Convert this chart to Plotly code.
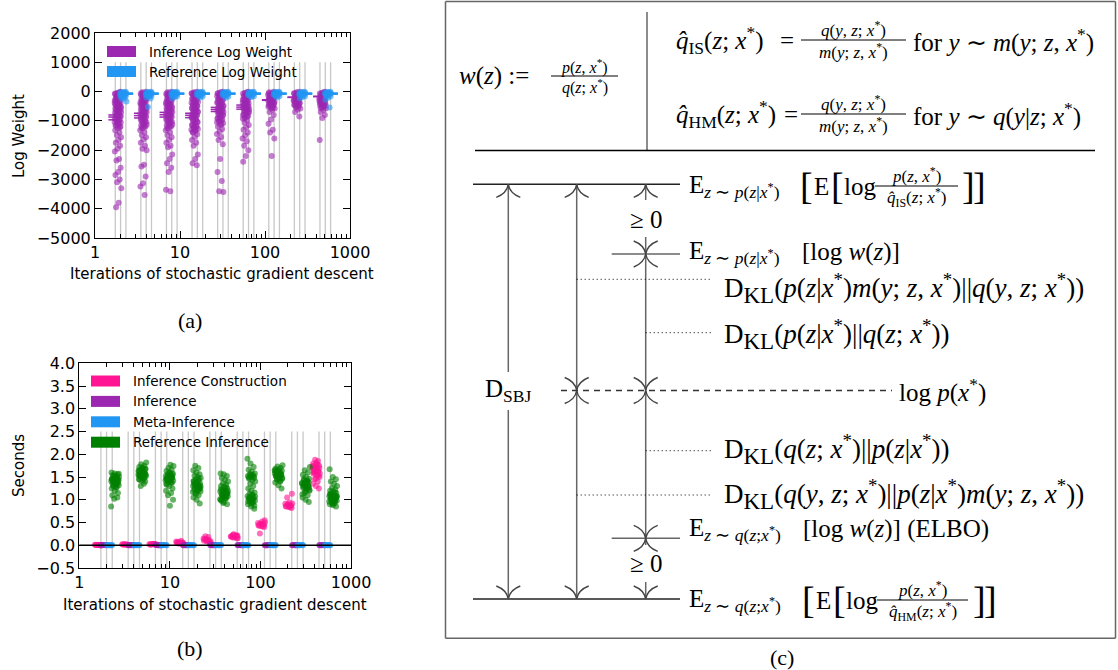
import re
import plotly.graph_objects as go

W, H = 1118, 670

# ---------------- data ----------------
iterations = [2, 4, 8, 16, 32, 64, 128, 256, 512]
SLOT = 1.155  # log spacing of the four categories inside a group

inference_log_weight = [
    [-10, -40, -70, -100, -130, -160, -190, -220, -250, -280, -310, -340, -370, -400, -430, -460, -490, -520, -550, -580,
     -610, -640, -680, -720, -760, -800, -840, -880, -920, -960, -1000, -1040, -1090, -1140, -1190, -1250, -1320, -1400,
     -1480, -1560, -1650, -1750, -1850, -1950, -2050, -2300, -2350, -2600, -2750, -2850, -3000, -3100, -3300, -3800, -3950,
     -25, -55, -85, -115, -150, -190, -230, -270, -310, -350, -390, -430, -470, -510, -550, -590, -630, -670, -710,
     -750, -790, -830, -870, -910, -960, -1010, -1060, -1110, -1170, -1230],
    [-10, -40, -70, -100, -140, -180, -220, -260, -300, -340, -380, -420, -460, -500, -540, -580, -620, -660, -700, -740,
     -780, -820, -860, -900, -950, -1000, -1050, -1100, -1150, -1200, -1260, -1320, -1400, -1480, -1560, -1640, -1750,
     -1850, -1950, -2000, -2500, -2560, -2900, -3130, -3240, -3530,
     -25, -55, -85, -120, -160, -200, -240, -280, -320, -360, -400, -440, -480, -520, -560, -600, -640, -680, -720,
     -760, -800, -840, -880, -930, -980, -1030, -1080, -1130, -1180, -1240],
    [-10, -40, -70, -100, -140, -180, -220, -260, -300, -340, -380, -420, -460, -500, -540, -580, -620, -660, -700, -740,
     -780, -820, -860, -900, -950, -1000, -1050, -1100, -1150, -1200, -1260, -1320, -1400, -1480, -1560, -1650, -1750,
     -1850, -1900, -2150, -2300, -2450, -2600, -2750, -3350, -3400,
     -25, -55, -85, -120, -160, -200, -240, -280, -320, -360, -400, -440, -480, -520, -560, -600, -640, -680, -720,
     -760, -800, -840, -880, -930, -980, -1030, -1080, -1130, -1180, -1240],
    [-10, -40, -70, -100, -140, -180, -220, -260, -300, -340, -380, -420, -460, -500, -540, -580, -620, -660, -700, -740,
     -780, -820, -860, -900, -950, -1000, -1050, -1100, -1150, -1200, -1250, -1300, -1350, -1400, -1460, -1550, -1650,
     -1750, -1850, -2150, -2300, -2450, -2520,
     -25, -55, -85, -120, -160, -200, -240, -280, -320, -360, -400, -440, -480, -520, -560, -600, -640, -680, -720,
     -760, -800, -840, -880, -930, -980, -1030, -1080, -1130, -1180, -1230, -1280, -1330, -1380],
    [-10, -40, -70, -100, -140, -180, -220, -260, -300, -340, -380, -420, -460, -500, -540, -580, -620, -660, -700, -740,
     -780, -820, -870, -920, -970, -1020, -1080, -1140, -1200, -1280, -1360, -1450, -1550, -1650, -1800, -2300, -2750,
     -3050, -3400, -3430,
     -25, -55, -85, -120, -160, -200, -240, -280, -320, -360, -400, -440, -480, -520, -560, -600, -640, -680, -720,
     -760, -800, -850, -900, -950, -1000, -1050, -1110],
    [-10, -40, -70, -100, -140, -180, -220, -260, -300, -340, -380, -420, -460, -500, -540, -580, -620, -660, -700, -740,
     -780, -830, -880, -930, -990, -1060, -1140, -1220, -1300, -1400, -1500, -1600, -1700, -1850, -2000, -2200, -2400,
     -25, -55, -85, -120, -160, -200, -240, -280, -320, -360, -400, -440, -480, -520, -560, -600, -640, -680, -720,
     -760, -800, -850, -900],
    [-10, -40, -70, -100, -130, -160, -190, -220, -250, -280, -310, -340, -370, -400, -430, -460, -500, -540, -580, -620,
     -700, -800, -950, -1100, -1300, -1400, -1600, -2200,
     -25, -55, -85, -115, -145, -175, -205, -235, -265, -295, -325, -355, -385, -415, -450, -480, -520, -560],
    [-10, -40, -70, -100, -130, -160, -190, -220, -250, -280, -310, -340, -370, -400, -430, -460, -500, -540, -580, -620,
     -700, -850,
     -25, -55, -85, -115, -145, -175, -205, -235, -265, -295, -325, -355, -385, -415, -450, -480, -520],
    [-10, -40, -70, -100, -130, -160, -190, -220, -250, -280, -310, -340, -370, -400, -430, -460, -500, -540, -580, -630,
     -700, -800, -900, -1650,
     -25, -55, -85, -115, -145, -175, -205, -235, -265, -295, -325, -355, -385, -415, -450, -480, -520, -560],
]
reference_log_weight = [
    [-5, -15, -25, -35, -45, -55, -65, -75, -85, -95, -105, -120, -135, -150, -170, -190, -220, -260, -340],
    [-5, -15, -25, -35, -45, -55, -65, -75, -85, -95, -105, -120, -135, -150, -170, -200, -240, -530],
    [-5, -15, -25, -35, -45, -55, -65, -75, -85, -95, -110, -125, -140, -160, -190, -230],
    [-5, -15, -25, -35, -45, -55, -65, -75, -85, -95, -110, -125, -145, -170, -200],
    [-5, -15, -25, -35, -45, -55, -65, -75, -85, -95, -110, -125, -145, -170, -210],
    [-5, -15, -25, -35, -45, -55, -65, -75, -85, -95, -110, -125, -140, -160, -190],
    [-5, -15, -25, -35, -45, -55, -65, -75, -85, -95, -110, -125, -140, -160, -200],
    [-5, -15, -25, -35, -45, -55, -65, -75, -85, -95, -110, -125, -140, -160, -190, -230],
    [-5, -15, -25, -35, -45, -55, -65, -75, -85, -95, -110, -125, -145, -170, -210, -280, -540],
]
inference_lw_marks = [[-800, -870, -965], [-740, -820, -900], [-710, -790, -870], [-740, -810, -890],
                      [-540, -610, -680], [-460, -530, -600], [-280, -300], [-190, -200], [-160, -175]]
reference_lw_marks = [[-50, -70, -90], [-50, -70, -90], [-50, -70, -90], [-50, -70, -90], [-50, -70, -90],
                      [-50, -70, -90], [-50, -70, -90], [-50, -70, -90], [-50, -70, -90]]

inference_construction_s = [
    [0.0, 0.005, 0.01, 0.0, 0.008, 0.012, 0.004, 0.006, 0.002, 0.01],
    [0.01, 0.015, 0.02, 0.012, 0.018, 0.008, 0.02, 0.014, 0.01, 0.016],
    [0.015, 0.02, 0.025, 0.03, 0.018, 0.022, 0.028, 0.012, 0.02, 0.024],
    [0.03, 0.04, 0.05, 0.06, 0.07, 0.045, 0.055, 0.065, 0.035, 0.05, 0.08, 0.1, 0.04, 0.06],
    [0.06, 0.08, 0.1, 0.12, 0.14, 0.09, 0.11, 0.13, 0.07, 0.1, 0.15, 0.18, 0.2, 0.05],
    [0.15, 0.17, 0.19, 0.21, 0.23, 0.16, 0.18, 0.2, 0.22, 0.24, 0.19, 0.2, 0.17, 0.21],
    [0.40, 0.42, 0.44, 0.46, 0.48, 0.5, 0.52, 0.43, 0.45, 0.47, 0.49, 0.41, 0.26, 0.55],
    [0.82, 0.84, 0.86, 0.88, 0.9, 0.92, 0.94, 0.85, 0.87, 0.89, 0.91, 0.83, 1.05, 1.13],
    [1.25, 1.3, 1.35, 1.4, 1.45, 1.5, 1.55, 1.6, 1.62, 1.65, 1.68, 1.7, 1.72, 1.75, 1.78, 1.8, 1.85, 1.88, 1.58,
     1.63, 1.67, 1.52, 1.47, 1.73, 1.77, 1.6, 1.7, 1.82, 1.57, 1.64, 1.69, 1.74, 1.54, 1.62],
]
inference_s = [
    [0.001, 0.003, 0.002, 0.004, 0.002, 0.001, 0.003, 0.002],
    [0.002, 0.003, 0.001, 0.004, 0.002, 0.003, 0.001, 0.002],
    [0.002, 0.001, 0.003, 0.002, 0.004, 0.002, 0.001, 0.003],
    [0.003, 0.002, 0.001, 0.002, 0.004, 0.003, 0.002, 0.001],
    [0.002, 0.004, 0.003, 0.001, 0.002, 0.003, 0.002, 0.001],
    [0.001, 0.002, 0.003, 0.002, 0.004, 0.001, 0.003, 0.002],
    [0.003, 0.001, 0.002, 0.004, 0.002, 0.003, 0.001, 0.002],
    [0.002, 0.003, 0.002, 0.001, 0.003, 0.004, 0.002, 0.001],
    [0.001, 0.002, 0.004, 0.003, 0.002, 0.001, 0.003, 0.002],
]
meta_inference_s = [
    [0.002, 0.001, 0.003, 0.002, 0.001, 0.004, 0.002, 0.003],
    [0.003, 0.002, 0.001, 0.002, 0.003, 0.001, 0.004, 0.002],
    [0.001, 0.003, 0.002, 0.004, 0.001, 0.002, 0.003, 0.002],
    [0.002, 0.004, 0.001, 0.003, 0.002, 0.001, 0.002, 0.003],
    [0.003, 0.001, 0.002, 0.002, 0.004, 0.003, 0.001, 0.002],
    [0.002, 0.003, 0.004, 0.001, 0.002, 0.002, 0.003, 0.001],
    [0.001, 0.002, 0.003, 0.002, 0.001, 0.004, 0.002, 0.003],
    [0.004, 0.002, 0.001, 0.003, 0.002, 0.001, 0.003, 0.002],
    [0.002, 0.001, 0.002, 0.003, 0.004, 0.002, 0.001, 0.003],
]
reference_inference_s = [
    [1.15, 1.2, 1.25, 1.28, 1.3, 1.32, 1.34, 1.36, 1.38, 1.4, 1.41, 1.42, 1.43, 1.44, 1.45, 1.46, 1.47, 1.48, 1.5,
     1.52, 1.54, 1.56, 1.58, 1.6, 1.35, 1.39, 1.43, 1.47, 1.1, 1.05, 1.02, 0.85,
     1.27, 1.31, 1.37, 1.41, 1.45, 1.49, 1.53, 1.57, 1.33, 1.44],
    [1.4, 1.42, 1.45, 1.47, 1.5, 1.52, 1.54, 1.56, 1.58, 1.6, 1.62, 1.64, 1.66, 1.68, 1.7, 1.72, 1.75, 1.78, 1.82,
     1.48, 1.53, 1.57, 1.61, 1.65, 1.35, 1.3, 1.55, 1.6,
     1.44, 1.49, 1.51, 1.55, 1.59, 1.63, 1.67, 1.71, 1.52, 1.58],
    [1.25, 1.3, 1.35, 1.38, 1.4, 1.42, 1.44, 1.46, 1.48, 1.5, 1.52, 1.54, 1.56, 1.58, 1.6, 1.63, 1.66, 1.7, 1.74,
     1.77, 1.45, 1.49, 1.53, 1.2, 1.15, 1.1, 1.0, 0.87,
     1.33, 1.37, 1.41, 1.43, 1.47, 1.51, 1.55, 1.59, 1.46, 1.5],
    [0.92, 1.0, 1.05, 1.1, 1.15, 1.18, 1.2, 1.22, 1.25, 1.28, 1.3, 1.32, 1.34, 1.36, 1.38, 1.4, 1.42, 1.45, 1.48,
     1.5, 1.53, 1.56, 1.6, 1.65, 1.7, 1.75, 1.24, 1.3, 1.35, 1.27,
     1.12, 1.17, 1.21, 1.26, 1.31, 1.37, 1.41, 1.46, 1.33, 1.29],
    [0.9, 0.95, 1.0, 1.02, 1.05, 1.08, 1.1, 1.12, 1.14, 1.16, 1.18, 1.2, 1.22, 1.25, 1.28, 1.3, 1.33, 1.36, 1.4,
     1.44, 1.48, 1.52, 1.56, 1.58, 1.04, 1.1, 1.15, 1.2, 0.98, 1.07,
     0.93, 1.01, 1.06, 1.11, 1.13, 1.17, 1.23, 1.27, 1.09, 1.19],
    [0.8, 0.85, 0.9, 0.93, 0.96, 0.98, 1.0, 1.02, 1.04, 1.06, 1.08, 1.1, 1.13, 1.16, 1.2, 1.25, 1.3, 1.35, 1.4,
     1.43, 1.46, 1.48, 1.5, 1.52, 1.54, 1.56, 1.58, 1.62, 1.66, 1.72, 1.8, 1.9, 0.95, 1.05,
     0.87, 0.92, 0.97, 1.01, 1.03, 1.07, 1.11, 1.49, 1.51, 1.55],
    [1.25, 1.32, 1.38, 1.42, 1.45, 1.48, 1.5, 1.52, 1.54, 1.56, 1.58, 1.6, 1.62, 1.64, 1.66, 1.68, 1.7, 1.73, 1.76,
     1.47, 1.51, 1.55, 1.59, 1.63, 1.4, 1.44,
     1.46, 1.49, 1.53, 1.57, 1.61, 1.65, 1.53, 1.57],
    [0.95, 1.0, 1.05, 1.1, 1.15, 1.2, 1.23, 1.26, 1.3, 1.33, 1.36, 1.4, 1.43, 1.46, 1.5, 1.55, 1.6, 1.65, 1.72,
     1.28, 1.32, 1.38, 1.18, 1.12, 1.42, 1.35,
     1.22, 1.25, 1.29, 1.31, 1.34, 1.37, 1.41, 1.45, 1.27, 1.39],
    [0.85, 0.88, 0.9, 0.93, 0.95, 0.98, 1.0, 1.02, 1.04, 1.06, 1.08, 1.1, 1.12, 1.15, 1.18, 1.2, 1.23, 1.26, 1.3,
     1.35, 1.4, 1.45, 1.5, 1.67, 0.97, 1.03, 1.07, 0.92, 1.13, 1.0,
     0.91, 0.96, 0.99, 1.01, 1.05, 1.09, 1.11, 1.16, 1.04, 1.08],
]

a_legend = ["Inference Log Weight", "Reference Log Weight"]
b_legend = ["Inference Construction", "Inference", "Meta-Inference", "Reference Inference"]
x_tickvals = [1, 10, 100, 1000]
x_minor = [m * d for d in (1, 10, 100) for m in range(2, 10)]

PURPLE = "#9C27B0"
BLUE = "#2196F3"
PINK = "#FF1493"
GREEN = "#008000"
GRAY = "#c8c8c8"
SANS = "DejaVu Sans"
SERIF = "Liberation Serif"


# ---------------- helpers ----------------
def slot_x(n, k):
    return n * SLOT ** (k - 1.5)


def jitter(i):
    return ((i * 0.6180339887) % 1.0) - 0.5


def strip(groups, k, spread):
    xs, ys = [], []
    for n, vals in zip(iterations, groups):
        c = slot_x(n, k)
        for i, v in enumerate(vals):
            xs.append(c * 10 ** (jitter(i + 3) * spread))
            ys.append(v)
    return xs, ys


def boundaries(ybot, ytop):
    xs, ys = [], []
    for n in iterations:
        for b in (n / SLOT, n, n * SLOT):
            xs += [b, b, None]
            ys += [ybot, ytop, None]
    return xs, ys


fig = go.Figure()

# ---------------- panel (a) ----------------
gx, gy = boundaries(-5000, 1000)
fig.add_trace(go.Scatter(x=gx, y=gy, mode="lines", line=dict(color=GRAY, width=1.3),
                         xaxis="x", yaxis="y", showlegend=False, hoverinfo="skip"))
for groups, k, col in ((inference_log_weight, 1, PURPLE), (reference_log_weight, 2, BLUE)):
    sx, sy = strip(groups, k, 0.08)
    fig.add_trace(go.Scatter(x=sx, y=sy, mode="markers", xaxis="x", yaxis="y",
                             marker=dict(color=col, size=6, opacity=0.6, line=dict(width=0)),
                             showlegend=False))
for groups, ratio, col in ((inference_lw_marks, 0.82, PURPLE), (reference_lw_marks, 1.23, BLUE)):
    mx, my = [], []
    for n, vals in zip(iterations, groups):
        for v in vals:
            mx.append(n * ratio)
            my.append(v)
    fig.add_trace(go.Scatter(x=mx, y=my, mode="markers", xaxis="x", yaxis="y",
                             marker=dict(symbol="line-ew", size=7, line=dict(color=col, width=1.5)),
                             showlegend=False))

# ---------------- panel (b) ----------------
gx, gy = boundaries(-0.5, 2.5)
fig.add_trace(go.Scatter(x=gx, y=gy, mode="lines", line=dict(color=GRAY, width=1.3),
                         xaxis="x2", yaxis="y2", showlegend=False, hoverinfo="skip"))
for groups, k, col, spread in ((inference_construction_s, 0, PINK, 0.085), (inference_s, 1, PURPLE, 0.07),
                               (meta_inference_s, 2, BLUE, 0.07), (reference_inference_s, 3, GREEN, 0.09)):
    sx, sy = strip(groups, k, spread)
    fig.add_trace(go.Scatter(x=sx, y=sy, mode="markers", xaxis="x2", yaxis="y2",
                             marker=dict(color=col, size=6, opacity=0.6, line=dict(width=0)),
                             showlegend=False))

# ---------------- axes ----------------
axis_common = dict(showline=True, linecolor="black", linewidth=1, mirror="allticks", ticks="inside",
                   tickcolor="black", ticklen=7, tickwidth=1, showgrid=False, zeroline=False,
                   automargin=False, tickfont=dict(family=SANS, size=16, color="black"))
xlog = dict(type="log", range=[0, 3], tickvals=x_tickvals, ticktext=[str(v) for v in x_tickvals],
            minor=dict(ticks="inside", ticklen=4, tickcolor="black", tickvals=x_minor, showgrid=False))

shapes = []
annotations = []

fig.update_layout(
    width=W, height=H, autosize=False,
    margin=dict(l=0, r=0, t=0, b=0, pad=0, autoexpand=False),
    paper_bgcolor="white", plot_bgcolor="rgba(0,0,0,0)", showlegend=False,
    xaxis=dict(domain=[95 / W, 350 / W], anchor="y", **xlog, **axis_common),
    yaxis=dict(domain=[1 - 238 / H, 1 - 33 / H], anchor="x", range=[-5000, 2000], dtick=1000, **axis_common),
    xaxis2=dict(domain=[79.3 / W, 351 / W], anchor="y2", **xlog, **axis_common),
    yaxis2=dict(domain=[1 - 568 / H, 1 - 363.3 / H], anchor="x2", range=[-0.5, 4.0], dtick=0.5,
                tickformat=".1f", **axis_common),
    xaxis3=dict(domain=[0, 1], range=[0, W], visible=False, anchor="y3", fixedrange=True, automargin=False),
    yaxis3=dict(domain=[0, 1], range=[H, 0], visible=False, anchor="x3", fixedrange=True, automargin=False),
)

# zero line of panel (b)
shapes.append(dict(type="line", xref="x2 domain", x0=0, x1=1, yref="y2", y0=0, y1=0,
                   line=dict(color="black", width=1.5)))


def label(x, y, text, size=25, xanchor="left", yanchor="middle", family=SERIF, angle=0):
    annotations.append(dict(x=x, y=y, xref="x3", yref="y3", text=text, showarrow=False,
                            xanchor=xanchor, yanchor=yanchor, textangle=angle,
                            font=dict(family=family, size=size, color="black")))


ITAL = re.compile(r"(?<![A-Za-z])([a-z])(?![A-Za-z\u0302])")


def math(s):
    s = ITAL.sub(r"<i>\1</i>", s)
    s = s.replace("q\u0302", "<i>q\u0302</i>")
    s = s.replace("*", "<sup>*</sup>")
    return s


# legends (manual patches)
for i, (name, col) in enumerate(zip(a_legend, (PURPLE, BLUE))):
    y0 = 46 + 20 * i
    shapes.append(dict(type="rect", xref="x3", yref="y3", x0=107, x1=136, y0=y0, y1=y0 + 11,
                       fillcolor=col, line=dict(width=0)))
    label(147, y0 + 5.5, name, size=13.5, family=SANS)
for i, (name, col) in enumerate(zip(b_legend, (PINK, PURPLE, BLUE, GREEN))):
    y0 = 375.5 + 20.4 * i
    shapes.append(dict(type="rect", xref="x3", yref="y3", x0=91, x1=120, y0=y0, y1=y0 + 11,
                       fillcolor=col, line=dict(width=0)))
    label(131, y0 + 5.5, name, size=13.5, family=SANS)

# axis titles & captions
label(19, 136, "Log Weight", size=15, family=SANS, xanchor="center", angle=-90)
label(222, 274, "Iterations of stochastic gradient descent", size=15, family=SANS, xanchor="center")
label(19, 466, "Seconds", size=15, family=SANS, xanchor="center", angle=-90)
label(215, 605, "Iterations of stochastic gradient descent", size=15, family=SANS, xanchor="center")
label(190, 320, "(a)", size=22, xanchor="center")
label(190, 648, "(b)", size=22, xanchor="center")
label(782, 657, "(c)", size=22, xanchor="center")

# ---------------- panel (c) diagram ----------------
LINE_GRAY = "#666666"
DARK = "#222222"
V1, V2, V3 = 508.3, 576.7, 645.7
TOP, BOT = 184.3, 599.0
SHORT1, SHORT2 = 254.0, 538.3
DSBJ_Y = 390.5

diagram_segments = [
    # (x0, x1, y0, y1, color, width, dash)
    (445.5, 1115.5, 1.5, 1.5, LINE_GRAY, 1.5, "solid"),
    (445.5, 1115.5, 638.3, 638.3, LINE_GRAY, 1.5, "solid"),
    (445.5, 445.5, 1.5, 638.3, LINE_GRAY, 1.5, "solid"),
    (1115.5, 1115.5, 1.5, 638.3, LINE_GRAY, 1.5, "solid"),
    (647, 647, 12, 150, LINE_GRAY, 1.5, "solid"),
    (475, 1095, 150.5, 150.5, "black", 1.3, "solid"),
    (473, 680, TOP, TOP, DARK, 1.5, "solid"),
    (473, 680, BOT, BOT, DARK, 1.5, "solid"),
    (V1, V1, TOP, 372, LINE_GRAY, 1.5, "solid"),
    (V1, V1, 410, BOT, LINE_GRAY, 1.5, "solid"),
    (V2, V2, TOP, BOT, LINE_GRAY, 1.5, "solid"),
    (V3, V3, TOP, 200, LINE_GRAY, 1.5, "solid"),
    (V3, V3, 237, 545, LINE_GRAY, 1.5, "solid"),
    (V3, V3, 582, BOT, LINE_GRAY, 1.5, "solid"),
    (611.7, 680, SHORT1, SHORT1, LINE_GRAY, 1.5, "solid"),
    (611.7, 680, SHORT2, SHORT2, LINE_GRAY, 1.5, "solid"),
    (V2, 711.7, 279.3, 279.3, "black", 1, "1px,3px"),
    (V3, 711.7, 332.7, 332.7, "black", 1, "1px,3px"),
    (V3, 711.7, 450.7, 450.7, "black", 1, "1px,3px"),
    (V2, 711.7, 495.0, 495.0, "black", 1, "1px,3px"),
    (561, 892, DSBJ_Y, DSBJ_Y, "#333333", 1.3, "6px,5px"),
]
for x0, x1, y0, y1, col, wd, dash in diagram_segments:
    fig.add_trace(go.Scatter(x=[x0, x1], y=[y0, y1], mode="lines", xaxis="x3", yaxis="y3",
                             line=dict(color=col, width=wd, dash=dash), showlegend=False, hoverinfo="skip"))


def tip(x, y, up=True):
    s = 1 if up else -1
    return (f"M {x - 12},{y + 13 * s} Q {x - 1.5},{y + 9 * s} {x},{y} "
            f"Q {x + 1.5},{y + 9 * s} {x + 12},{y + 13 * s}")


tips_up = [(V1, TOP), (V2, TOP), (V3, TOP), (V3, SHORT1), (V2, DSBJ_Y), (V3, DSBJ_Y), (V3, SHORT2)]
tips_down = [(V1, BOT), (V2, BOT), (V3, BOT), (V3, SHORT1), (V2, DSBJ_Y), (V3, DSBJ_Y), (V3, SHORT2)]
for (x, y) in tips_up:
    shapes.append(dict(type="path", xref="x3", yref="y3", path=tip(x, y, True),
                       line=dict(color="#444444", width=1.4)))
for (x, y) in tips_down:
    shapes.append(dict(type="path", xref="x3", yref="y3", path=tip(x, y, False),
                       line=dict(color="#444444", width=1.4)))


def frac(x0, x1, y, num, den, size=17, gap=11):
    xc = (x0 + x1) / 2
    label(xc, y - gap, math(num), size, "center")
    label(xc, y + gap, math(den), size, "center")
    fig.add_trace(go.Scatter(x=[x0, x1], y=[y, y], mode="lines", xaxis="x3", yaxis="y3",
                             line=dict(color="black", width=1), showlegend=False, hoverinfo="skip"))


MAIN = 25
DK = 27
BR = 38
KL = "<sub><span style='font-size:23px'>KL</span></sub>"

# top box
label(457, 76, math("w(z) :="), MAIN)
frac(551, 618, 76, "p(z, x*)", "q(z; x*)", 16, 10)
label(674, 40, math("q\u0302<sub>IS</sub>(z; x*)"), MAIN)
label(778, 40, "=", MAIN)
frac(801, 906, 40, "q(y, z; x*)", "m(y; z, x*)", 17, 11)
label(911, 40, math("for y \u223c m(y; z, x*)"), MAIN)
label(674, 114, math("q\u0302<sub>HM</sub>(z; x*)"), MAIN)
label(782, 114, "=", MAIN)
frac(801, 906, 114, "q(y, z; x*)", "m(y; z, x*)", 17, 11)
label(911, 114, math("for y \u223c q(y|z; x*)"), MAIN)

# line 1
Y1 = 186
label(687, Y1, math("E<sub>z \u223c p(z|x*)</sub>"), MAIN)
label(798, Y1, "[", BR)
label(812, Y1, "E", MAIN)
label(829, Y1, "[", BR)
label(842, Y1, "log", MAIN)
frac(875, 958, Y1, "p(z, x*)", "q\u0302<sub>IS</sub>(z; x*)", 17, 11)
label(960, Y1, "]", BR)
label(971, Y1, "]", BR)

label(646, 219, "\u2265 0", MAIN, "center")
label(687, 252, math("E<sub>z \u223c p(z|x*)</sub>"), MAIN)
label(800, 252, math("[log w(z)]"), MAIN)
label(722, 288, "D" + KL + math("(p(z|x*)m(y; z, x*)||q(y, z; x*))"), DK)
label(722, 334, "D" + KL + math("(p(z|x*)||q(z; x*))"), DK)
label(508, DSBJ_Y, "D<sub>SBJ</sub>", MAIN, "center")
label(897, DSBJ_Y, math("log p(x*)"), MAIN)
label(722, 449, "D" + KL + math("(q(z; x*)||p(z|x*))"), DK)
label(722, 494, "D" + KL + math("(q(y, z; x*)||p(z|x*)m(y; z, x*))"), DK)
label(687, 529, math("E<sub>z \u223c q(z;x*)</sub>"), MAIN)
label(801, 529, math("[log w(z)] (ELBO)"), MAIN)
label(646, 563, "\u2265 0", MAIN, "center")

Y2 = 600
label(687, Y2, math("E<sub>z \u223c q(z;x*)</sub>"), MAIN)
label(800, Y2, "[", BR)
label(814, Y2, "E", MAIN)
label(831, Y2, "[", BR)
label(844, Y2, "log", MAIN)
frac(877, 968, Y2, "p(z, x*)", "q\u0302<sub>HM</sub>(z; x*)", 17, 11)
label(971, Y2, "]", BR)
label(982, Y2, "]", BR)

fig.update_layout(shapes=shapes, annotations=annotations)

POST = """
var st = 'margin:0;padding:0;overflow:hidden;';
document.documentElement.setAttribute('style', st);
document.body.setAttribute('style', st);
"""
fig.write_html("out.html", config={"displayModeBar": False}, post_script=POST)
